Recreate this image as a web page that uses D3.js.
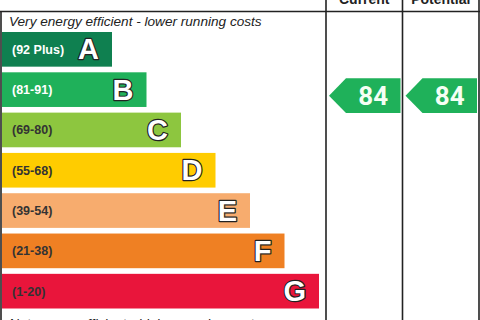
<!DOCTYPE html>
<html><head><meta charset="utf-8">
<script src="https://cdn.jsdelivr.net/npm/d3@7"></script>
<style>html,body{margin:0;padding:0;background:#fff;}svg{display:block;}</style>
</head><body>
<svg id="c" width="480" height="320"></svg>
<script>
const bands = ["A","B","C","D","E","F","G"];
const ranges = ["(92 Plus)","(81-91)","(69-80)","(55-68)","(39-54)","(21-38)","(1-20)"];
const bandMin = [92,81,69,55,39,21,1];
const columns = ["Current","Potential"];
const ratings = [84,84];
const topText = "Very energy efficient - lower running costs";
const bottomText = "Not energy efficient - higher running costs";

const bandColors = ["#0f8050","#1fb15a","#8dc63f","#ffcc00","#f7ac6e","#ef8023","#e9153b"];
const labelColors = ["#ffffff","#ffffff","#333333","#333333","#333333","#333333","#333333"];
const arrowColor = "#1fb15a";

const svg = d3.select("#c");
const font = "'Liberation Sans', Arial, sans-serif";

const y = d3.scaleBand().domain(bands).range([32, 308.5]).paddingInner(0.14).paddingOuter(0);
const w = d3.scaleLinear().domain([0, 6]).range([110, 317]);
const colX = d3.scaleBand().domain(columns).range([326, 479]);

// frame lines
const line = (x1,y1,x2,y2) => svg.append("line").attr("x1",x1).attr("y1",y1).attr("x2",x2).attr("y2",y2)
  .attr("stroke","#222").attr("stroke-width",1.6);
line(0, 11.5, 480, 11.5);
line(1, 11.5, 1, 320);
columns.forEach(c => line(colX(c), -5, colX(c), 320));
line(479, -5, 479, 320);

// headers
svg.selectAll("text.hdr").data(columns).join("text").attr("class","hdr")
  .attr("x", d => colX(d) + colX.bandwidth()/2).attr("y", 3.5)
  .attr("text-anchor","middle").attr("font-family",font).attr("font-weight","bold")
  .attr("font-size",14).attr("fill","#222").text(d => d);

// top/bottom texts
svg.append("text").attr("x",9).attr("y",25.5).attr("font-family",font).attr("font-style","italic")
  .attr("font-size",13.6).attr("fill","#222").text(topText);
svg.append("text").attr("x",9).attr("y",327.5).attr("font-family",font).attr("font-style","italic")
  .attr("font-size",13.6).attr("fill","#222").text(bottomText);

// bars
const g = svg.selectAll("g.band").data(bands).join("g").attr("class","band");
g.append("rect").attr("x",2).attr("y", d => y(d))
  .attr("width", (d,i) => w(i)).attr("height", y.bandwidth())
  .attr("fill", (d,i) => bandColors[i]);
g.append("text").attr("x",12).attr("y", d => y(d) + y.bandwidth()/2 + 4.5)
  .attr("font-family",font).attr("font-weight","bold").attr("font-size",12.5)
  .attr("fill",(d,i)=>labelColors[i]).text((d,i)=>ranges[i]);
g.append("text").attr("x",(d,i)=> 2 + w(i) - 13).attr("y", d => y(d) + y.bandwidth()/2 + 10)
  .attr("text-anchor","end")
  .attr("font-family",font).attr("font-weight","bold").attr("font-size",29)
  .attr("fill","#fff").attr("stroke","#222").attr("stroke-width",2.4).attr("paint-order","stroke")
  .attr("stroke-linejoin","round")
  .text(d => d);

// arrows
function bandOf(v){ return bands[bandMin.findIndex(m => v >= m)]; }
const arrows = svg.selectAll("g.arrow").data(ratings).join("g").attr("class","arrow");
arrows.append("path").attr("d", (v,i) => {
  const x0 = colX(columns[i]) + 3, x1 = colX(columns[i]) + colX.bandwidth() - 2;
  const t = y(bandOf(v)) + 6, b = t + y.bandwidth(), m = (t+b)/2, hx = x0 + 17;
  return `M${x0},${m}L${hx},${t}L${x1},${t}L${x1},${b}L${hx},${b}Z`;
}).attr("fill", arrowColor);
arrows.append("text")
  .attr("x",(v,i)=> colX(columns[i]) + 3 + 17 + (colX.bandwidth()-22)/2)
  .attr("y", v => y(bandOf(v)) + 6 + y.bandwidth()/2 + 9)
  .attr("text-anchor","middle").attr("font-family","Roboto, 'Liberation Sans', sans-serif").attr("font-weight","bold")
  .attr("font-size",26).attr("fill","#f4fff4").text(v => v);
</script>
</body></html>
